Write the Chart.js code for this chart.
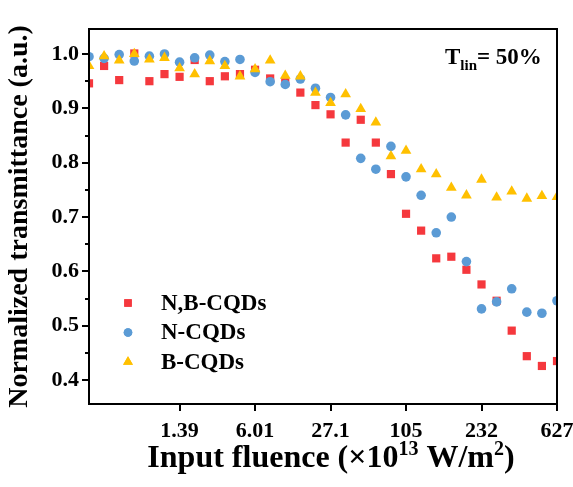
<!DOCTYPE html>
<html>
<head>
<meta charset="utf-8">
<script src="https://cdn.jsdelivr.net/npm/chart.js@4.4.0/dist/chart.umd.min.js"></script>
<style>
body{margin:0;background:#fff}
</style>
</head>
<body>
<canvas id="myChart" width="573" height="487"></canvas>
<script>
// x is the measurement index, labelled with the fluence at a few of them
const tickPos = [6, 11, 16, 21, 26, 31]
const tickLabels = ['1.39', '6.01', '27.1', '105', '232', '627']
const yTicks = [0.4, 0.5, 0.6, 0.7, 0.8, 0.9, 1.0]

const seriesNames = ['N,B-CQDs', 'N-CQDs', 'B-CQDs']
const nbCQDs = [0.946, 0.978, 0.952, 1.001, 0.950, 0.963, 0.958, 0.989, 0.950, 0.959, 0.963, 0.971, 0.955, 0.948, 0.929, 0.906,
	0.889, 0.837, 0.879, 0.837, 0.779, 0.706, 0.675, 0.624, 0.627, 0.603, 0.576, 0.546, 0.491, 0.444, 0.426, 0.435]
const nCQDs = [0.995, 0.992, 0.999, 0.987, 0.996, 1.000, 0.985, 0.993, 0.998, 0.986, 0.990, 0.966, 0.949, 0.944, 0.954, 0.937,
	0.920, 0.888, 0.808, 0.788, 0.830, 0.774, 0.740, 0.671, 0.700, 0.618, 0.531, 0.544, 0.568, 0.525, 0.523, 0.546]
const bCQDs = [0.978, 0.996, 0.988, 1.000, 0.990, 0.993, 0.974, 0.963, 0.987, 0.978, 0.959, 0.972, 0.988, 0.960, 0.959, 0.929,
	0.910, 0.926, 0.899, 0.874, 0.812, 0.822, 0.788, 0.779, 0.754, 0.740, 0.769, 0.736, 0.747, 0.734, 0.739, 0.737]

const colors = ['#f5383d', '#5b9bd5', '#ffc000']
const styles = ['rect', 'circle', 'triangle']
const radii = [5.8, 4.8, 6.2]

const FONT = '"Liberation Serif", "Times New Roman", serif'

function toPoints(arr){
	return arr.map((v, i) => ({x: i, y: v}))
}

const allSeries = [nbCQDs, nCQDs, bCQDs]
const data_datasets = []
for(let i = 0; i < allSeries.length; i++){
	data_datasets.push({
		label: seriesNames[i],
		data: toPoints(allSeries[i]),
		pointStyle: styles[i],
		pointRadius: radii[i],
		pointBackgroundColor: colors[i],
		pointBorderColor: colors[i],
		pointBorderWidth: 0,
		showLine: false,
		clip: 0,
		order: 3 - i
	})
}

// draws a run of [text, size, raise] pieces, centred on cx
function drawRich(ctx, parts, cx, baseY){
	let total = 0
	parts.forEach(p => { ctx.font = 'bold ' + p[1] + 'px ' + FONT; total += ctx.measureText(p[0]).width })
	let tx = cx - total / 2
	parts.forEach(p => {
		ctx.font = 'bold ' + p[1] + 'px ' + FONT
		ctx.fillText(p[0], tx, baseY - p[2])
		tx += ctx.measureText(p[0]).width
	})
}

// frame, tick marks, legend, x title and the T_lin note
const extras = {
	id: 'extras',
	afterDraw(chart){
		const ctx = chart.ctx
		const a = chart.chartArea
		const x = chart.scales.x
		const y = chart.scales.y
		ctx.save()
		ctx.strokeStyle = '#000'
		ctx.lineWidth = 2
		ctx.strokeRect(a.left, a.top, a.right - a.left, a.bottom - a.top)

		ctx.beginPath()
		for(let k = 8; k <= 20; k++){
			const py = Math.round(y.getPixelForValue(k * 0.05))
			const len = k % 2 == 0 ? 7 : 4
			ctx.moveTo(a.left, py)
			ctx.lineTo(a.left - len, py)
		}
		for(let k = 0; k < tickPos.length; k++){
			const px = Math.round(x.getPixelForValue(tickPos[k]))
			ctx.moveTo(px, a.bottom)
			ctx.lineTo(px, a.bottom + 7)
		}
		ctx.stroke()

		// legend
		ctx.textBaseline = 'middle'
		ctx.textAlign = 'left'
		ctx.font = 'bold 23px ' + FONT
		for(let i = 0; i < seriesNames.length; i++){
			const ly = 303 + i * 29.5
			ctx.fillStyle = colors[i]
			Chart.helpers.drawPoint(ctx, {pointStyle: styles[i], radius: radii[i] - 0.5, borderWidth: 0}, 128, ly)
			ctx.fill()
			ctx.fillStyle = '#000'
			ctx.fillText(seriesNames[i], 161, ly + 1)
		}

		// x axis title with superscripts
		ctx.textBaseline = 'alphabetic'
		drawRich(ctx, [['Input fluence (\u00d710', 32, 0], ['13', 20, 12], [' W/m', 32, 0], ['2', 20, 12], [')', 32, 0]], 331, 467)

		// T_lin = 50%
		ctx.font = 'bold 23px ' + FONT
		ctx.fillText('T', 445, 64)
		let tx = 445 + ctx.measureText('T').width
		ctx.font = 'bold 15px ' + FONT
		ctx.fillText('lin', tx, 70)
		tx += ctx.measureText('lin').width
		ctx.font = 'bold 23px ' + FONT
		ctx.fillText('= 50%', tx, 64)
		ctx.restore()
	}
}

const myChart = new Chart(document.getElementById('myChart'), {
	type: 'scatter',
	data: {datasets: data_datasets},
	plugins: [extras],
	options: {
		responsive: false,
		animation: false,
		layout: {padding: {top: 29, right: 0, left: 0, bottom: 0}},
		plugins: {
			legend: {display: false},
			tooltip: {enabled: false}
		},
		scales: {
			x: {
				type: 'linear',
				min: 0,
				max: 31,
				afterBuildTicks: (scale) => { scale.ticks = tickPos.map(v => ({value: v})) },
				afterFit: (scale) => { scale.height = 83; scale.paddingRight = 16; scale.paddingLeft = 0 },
				grid: {display: false, drawTicks: false},
				border: {display: false},
				ticks: {
					padding: 14,
					color: '#000',
					maxRotation: 0,
					font: {family: FONT, size: 22, weight: 'bold'},
					callback: (v) => tickLabels[tickPos.indexOf(v)]
				}
			},
			y: {
				min: 0.356,
				max: 1.046,
				afterBuildTicks: (scale) => { scale.ticks = yTicks.map(v => ({value: v})) },
				afterFit: (scale) => { scale.width = 89 },
				grid: {display: false, drawTicks: false},
				border: {display: false},
				ticks: {
					padding: 10,
					color: '#000',
					font: {family: FONT, size: 22, weight: 'bold'},
					callback: (v) => v.toFixed(1)
				},
				title: {
					display: true,
					text: 'Normalized transmittance (a.u.)',
					color: '#000',
					padding: {top: 3, bottom: 0},
					font: {family: FONT, size: 28, weight: 'bold'}
				}
			}
		}
	}
})
</script>
</body>
</html>
